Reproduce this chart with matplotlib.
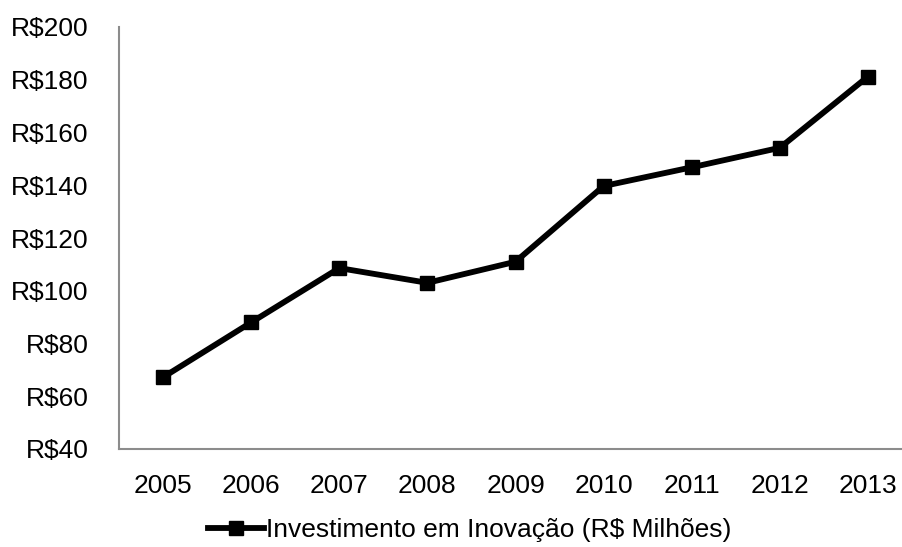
import matplotlib
matplotlib.use("Agg")
import matplotlib.pyplot as plt

years = ["2005", "2006", "2007", "2008", "2009", "2010", "2011", "2012", "2013"]
investimento = [67.2, 88.0, 108.6, 103.0, 111.0, 139.7, 146.8, 154.2, 181.2]
y_ticks = [40, 60, 80, 100, 120, 140, 160, 180, 200]

plt.rcParams["font.family"] = ["Liberation Sans", "DejaVu Sans"]

fig = plt.figure(figsize=(9.02, 5.47), dpi=100)
ax = fig.add_axes([119 / 902, 1 - 449 / 547, 793 / 902, 422 / 547])

x = list(range(len(years)))
line, = ax.plot(x, investimento, color="black", linewidth=4.2, marker="s",
                markersize=10, label="Investimento em Inovação (R$ Milhões)")

ax.set_xlim(-0.5, len(years) - 0.5)
ax.set_ylim(40, 200)
ax.set_xticks(x)
ax.set_xticklabels(years)
ax.set_yticks(y_ticks)
ax.set_yticklabels([f"R${v}" for v in y_ticks])
ax.tick_params(length=0, labelsize=19)
ax.tick_params(axis="y", pad=22)
ax.tick_params(axis="x", pad=18)

for side in ["top", "right"]:
    ax.spines[side].set_visible(False)
for side in ["left", "bottom"]:
    ax.spines[side].set_color("#8c8c8c")
    ax.spines[side].set_linewidth(1.5)

fig.legend(handles=[line], loc="center", bbox_to_anchor=(470 / 902, 1 - 530 / 547),
           frameon=False, fontsize=19, handlelength=2.1, handletextpad=0.1)

fig.savefig("out.png", dpi=100)
plt.close(fig)
